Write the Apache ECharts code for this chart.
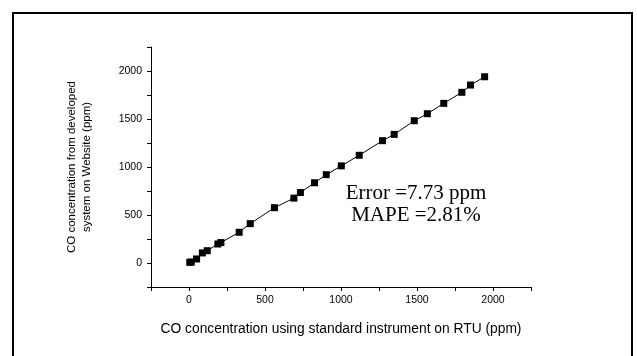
<!DOCTYPE html>
<html><head><meta charset="utf-8">
<script src="https://cdn.jsdelivr.net/npm/echarts@6/dist/echarts.min.js"></script>
<style>html,body{margin:0;padding:0;background:#fff}#c{width:637px;height:356px}</style>
</head><body><div id="c"></div>
<script>
const rtuValues = [5,15,50,88,120,190,210,330,403,562,690,733,826,903,1002,1120,1273,1350,1482,1568,1676,1795,1852,1945];
const websiteValues = [7,10,42,105,128,198,213,320,410,576,676,734,836,920,1012,1122,1274,1340,1482,1555,1663,1778,1854,1940];
const xTitle = 'CO concentration using standard instrument on RTU (ppm)';
const yTitle = 'CO concentration from developed\nsystem on Website (ppm)';
const notes = ['Error =7.73 ppm', 'MAPE =2.81%'];

const chart = echarts.init(document.getElementById('c'), null, {renderer:'canvas'});
const fmt = v => (v % 500 === 0 && v >= 0 && v <= 2000) ? String(v) : '';
const axisCommon = {
  type:'value', min:-250, max:2250, interval:250,
  splitLine:{show:false},
  axisLine:{show:true, onZero:false, lineStyle:{color:'#000', width:1}},
  axisTick:{show:true, inside:false, length:4, lineStyle:{color:'#000'}},
  axisLabel:{formatter:fmt, color:'#000', fontFamily:'Liberation Sans, Arial', fontSize:10.5}
};
chart.setOption({
  animation:false,
  grid:{left:151, top:47, width:380, height:240, containLabel:false},
  xAxis:Object.assign({}, axisCommon, {
    name:xTitle, nameLocation:'middle', nameGap:35,
    nameTextStyle:{color:'#000', fontFamily:'Liberation Sans, Arial', fontSize:13.8},
    axisLabel:Object.assign({}, axisCommon.axisLabel, {margin:8})
  }),
  yAxis:Object.assign({}, axisCommon, {
    name:yTitle, nameLocation:'middle', nameGap:57, nameRotate:90,
    nameTextStyle:{color:'#000', fontFamily:'Liberation Sans, Arial', fontSize:11.5, lineHeight:15},
    axisLabel:Object.assign({}, axisCommon.axisLabel, {margin:9})
  }),
  graphic:[
    {type:'rect', shape:{x:13, y:13, width:619, height:360}, style:{fill:'none', stroke:'#000', lineWidth:2}, silent:true},
    {type:'text', style:{text:notes[0], x:416, y:193, textAlign:'center', textVerticalAlign:'middle', fill:'#000', font:'21px "Liberation Serif", "Times New Roman"'}},
    {type:'text', style:{text:notes[1], x:416, y:215, textAlign:'center', textVerticalAlign:'middle', fill:'#000', font:'21px "Liberation Serif", "Times New Roman"'}}
  ],
  series:[{
    type:'line',
    data:rtuValues.map((x,i)=>[x, websiteValues[i]]),
    symbol:'rect', symbolSize:7, showSymbol:true,
    itemStyle:{color:'#000'},
    lineStyle:{color:'#000', width:1}
  }]
});
</script></body></html>
